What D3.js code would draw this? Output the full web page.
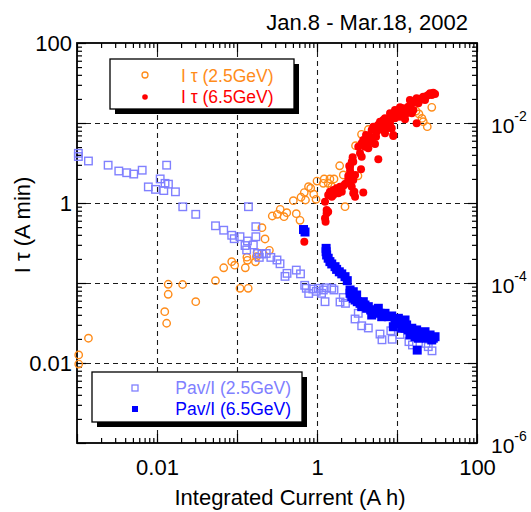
<!DOCTYPE html>
<html>
<head>
<meta charset="utf-8">
<script src="https://cdn.jsdelivr.net/npm/d3@7"></script>
<style>
  html, body { margin: 0; padding: 0; background: #fff; }
  text { font-family: "Liberation Sans", Arial, sans-serif; }
</style>
</head>
<body>
<svg id="chart" width="531" height="512"></svg>
<script>
// ---------------- DATA ----------------
const titleText = "Jan.8 - Mar.18, 2002";
const xTitle = "Integrated Current (A h)";
const yTitle = "I  \u03C4  (A min)";
const xTickLabels = [0.01, 1, 100];
const yLeftTickLabels = [100, 1, 0.01];
const yRightTickExps = [-2, -4, -6];
const seriesNames = ["I \u03C4 (2.5GeV)", "I \u03C4 (6.5GeV)", "Pav/I (2.5GeV)", "Pav/I (6.5GeV)"];

// I tau (2.5 GeV) - open orange circles (left axis)
const itau25X = [0.00105,0.00105,0.00139,0.0125,0.0132,0.0138,0.0138,0.0209,0.0305,0.0538,0.0682,0.0859,0.0935,0.109,0.138,0.127,0.133,0.135,0.170,0.175,0.205,0.224,0.254,0.276,0.319,0.347,0.387,0.419,0.506,0.551,0.613,0.631,0.693,0.718,0.783,0.834,0.910,0.972,1.0,1.23,1.45,1.63,1.20,1.38,1.53,1.92,2.13,3.25,3.03,3.60,4.38,2.24,18.8,20.5,21.3,23.9,27.2,0.178,17.3];
const itau25Y = [0.0126,0.0097,0.0204,0.0438,0.0314,0.0964,0.0723,0.0958,0.0584,0.107,0.155,0.185,0.167,0.0859,0.0859,0.155,0.210,0.192,0.184,0.213,0.491,0.355,0.256,0.688,0.722,0.834,0.674,0.757,1.07,0.735,0.608,1.18,1.35,1.09,1.60,1.53,1.29,1.11,1.88,2.0,2.0,2.0,1.76,1.76,1.60,2.92,2.24,2.19,5.20,7.22,8.29,0.90,13.0,11.4,10.4,9.0,15.7,0.239,14.1];

// I tau (6.5 GeV) - filled red circles (left axis)
const itau65X = [0.694,1.32,1.38,1.28,1.26,1.38,1.45,1.60,1.76,1.94,2.13,2.24,1.60,1.85,2.04,1.53,2.46,2.46,2.59,2.53,2.72,2.79,2.84,2.99,3.79,3.55,3.45,3.62,3.28,3.62,3.79,4.18,4.18,4.60,4.83,5.31,5.84,4.83,5.06,5.57,6.13,6.44,6.74,7.08,7.43,7.78,8.18,8.59,8.99,9.44,9.91,9.44,10.4,10.9,11.5,12.6,13.2,13.8,14.5,15.3,16.0,16.8,17.6,18.5,19.4,20.4,21.3,22.4,23.5,24.6,25.9,27.2,28.4,29.9,17.6,15.3,10.9,12.0,8.18,6.74,6.13,5.47,3.98,4.38,2.99,2.84,2.35,1.26,1.68,2.72,2.93,2.59,2.84,8.99,1.32,7.08,8.66,7.72,5.79,4.10];
const itau65Y = [0.328,0.743,0.778,0.584,1.04,1.26,1.38,1.45,1.53,1.60,1.63,1.73,1.26,1.32,1.38,1.20,1.94,2.18,2.53,2.90,3.28,3.73,1.32,1.20,1.35,2.64,4.18,3.79,5.06,5.57,6.13,6.44,5.57,6.74,5.84,5.47,3.52,8.18,8.99,7.78,8.34,9.44,8.18,7.43,8.99,10.4,9.91,8.59,7.08,11.5,13.2,14.5,13.8,12.0,13.2,11.1,13.2,16.0,19.4,17.6,14.5,18.5,20.4,17.6,19.4,20.4,21.3,19.4,21.8,22.4,23.5,22.4,23.9,23.0,9.91,13.2,15.7,15.3,13.2,10.9,10.4,6.74,5.06,4.83,2.24,1.94,1.76,0.644,1.32,1.60,1.38,2.84,3.28,6.88,0.818,11.5,11.5,8.66,9.44,7.08];

// Pav/I (2.5 GeV) - open light-blue squares (right axis)
const pav25X = [0.00104,0.00104,0.00139,0.00245,0.00333,0.00418,0.00512,0.00653,0.00779,0.00958,0.01096,0.01216,0.0126,0.0132,0.0139,0.0170,0.0210,0.0305,0.0539,0.0682,0.0859,0.0923,0.109,0.139,0.172,0.172,0.135,0.126,0.160,0.132,0.180,0.205,0.232,0.265,0.190,0.316,0.345,0.422,0.398,0.551,0.622,0.702,0.735,0.788,0.886,0.98,1.04,1.14,1.32,1.26,1.53,1.63,2.13,1.94,2.27,3.28,2.99,3.62,4.38,6.13,6.49,8.37,8.71,10.9,14.1,15.6,23.0,24.6,27.4,1.20];
const pav25Y = [4.18e-3,3.81e-3,3.35e-3,2.97e-3,2.51e-3,2.39e-3,2.30e-3,2.57e-3,1.59e-3,1.48e-3,2.0e-3,1.43e-3,1.76e-3,2.97e-3,1.72e-3,1.38e-3,8.97e-4,7.22e-4,5.19e-4,4.57e-4,3.95e-4,3.58e-4,3.79e-4,8.99e-4,5.06e-4,3.79e-4,3.35e-4,2.94e-4,2.99e-4,2.59e-4,2.34e-4,2.30e-4,2.34e-4,2.09e-4,2.09e-4,1.94e-4,1.74e-4,1.32e-4,1.21e-4,1.45e-4,1.30e-4,9.36e-5,8.59e-5,7.39e-5,8.41e-5,7.87e-5,8.59e-5,7.43e-5,8.71e-5,5.84e-5,8.59e-5,8.18e-5,6.59e-5,5.79e-5,5.57e-5,4.18e-5,3.55e-5,2.92e-5,2.74e-5,2.30e-5,1.95e-5,2.53e-5,1.98e-5,2.27e-5,1.85e-5,1.68e-5,1.76e-5,1.60e-5,1.42e-5,8.18e-5];

// Pav/I (6.5 GeV) - filled blue squares (right axis)
const pav65X = [0.678,0.708,1.30,1.30,1.32,1.38,1.45,1.53,1.68,1.76,1.90,2.04,2.24,2.39,2.59,2.59,2.72,2.84,2.99,3.19,3.45,3.62,3.98,4.38,4.69,4.83,5.31,5.84,6.13,6.44,7.08,7.78,8.59,8.99,9.44,9.91,10.4,11.5,12.6,11.5,12.6,13.8,14.5,16.0,17.6,16.8,18.5,17.9,20.4,22.4,23.5,25.9,27.2,29.9,2.84,3.13,3.79,4.18,5.31,6.74,10.9,13.2,15.3,19.4,21.3,24.6,28.4];
const pav65Y = [4.66e-4,4.34e-4,2.71e-4,2.46e-4,2.24e-4,2.04e-4,1.85e-4,1.73e-4,1.60e-4,1.48e-4,1.38e-4,1.30e-4,1.20e-4,1.07e-4,8.18e-5,7.43e-5,6.74e-5,6.44e-5,6.13e-5,5.84e-5,5.57e-5,5.06e-5,5.31e-5,5.06e-5,4.60e-5,3.98e-5,4.38e-5,4.83e-5,4.18e-5,3.79e-5,4.18e-5,3.79e-5,3.87e-5,2.84e-5,3.45e-5,3.13e-5,3.62e-5,3.28e-5,3.45e-5,2.72e-5,2.72e-5,2.59e-5,2.24e-5,2.46e-5,2.59e-5,2.13e-5,2.04e-5,1.45e-5,2.24e-5,2.46e-5,2.04e-5,2.24e-5,1.94e-5,2.13e-5,7.78e-5,7.08e-5,5.84e-5,4.83e-5,4.60e-5,3.98e-5,3.13e-5,2.99e-5,2.72e-5,2.35e-5,2.13e-5,2.13e-5,2.04e-5];

// ---------------- STYLE ----------------
const C_ORANGE = "#ff8c1a", C_RED = "#ff0000", C_LIGHT = "#8080ff", C_BLUE = "#0000ff";
const FONT = "Liberation Sans, Arial, sans-serif";

// ---------------- LAYOUT ----------------
const L = 77, R = 477, T = 43, B = 443;
const svg = d3.select("#chart");

const x = d3.scaleLog().domain([1e-3, 100]).range([L, R]);
const yL = d3.scaleLog().domain([1e-3, 100]).range([B, T]);
const yR = d3.scaleLog().domain([1e-6, 1e-1]).range([B, T]);

function logTicks(domain) {
  const lo = Math.round(Math.log10(domain[0])), hi = Math.round(Math.log10(domain[1]));
  const t = [];
  for (let e = lo; e < hi; e++) for (let m = 1; m < 10; m++) t.push(+(m * Math.pow(10, e)).toPrecision(6));
  t.push(Math.pow(10, hi));
  return t;
}
const isMajor = v => Math.abs(Math.log10(v) - Math.round(Math.log10(v))) < 1e-6;
const near = (a, b) => Math.abs(Math.log10(a) - Math.log10(b)) < 1e-6;

// gridlines
const grid = svg.append("g").attr("stroke", "#1a1a1a").attr("stroke-width", 1.1).attr("stroke-dasharray", "5,4");
x.ticks().filter(isMajor).filter(v => v > 1e-3 && v < 100).forEach(v => {
  const px = Math.round(x(v)) + 0.5;
  grid.append("line").attr("x1", px).attr("x2", px).attr("y1", T).attr("y2", B);
});
yL.ticks().filter(isMajor).filter(v => v > 1e-3 && v < 100).forEach(v => {
  const py = Math.round(yL(v)) + 0.5;
  grid.append("line").attr("x1", L).attr("x2", R).attr("y1", py).attr("y2", py);
});

// axes
function styleAxis(g, major, minor, horiz, sign) {
  g.select(".domain").remove();
  g.selectAll(".tick line").attr("stroke", "#000").attr("stroke-width", 1.2)
    .each(function(d) {
      const len = isMajor(d) ? major : minor;
      if (horiz) d3.select(this).attr("y2", sign * len);
      else d3.select(this).attr("x2", sign * len);
    });
  g.selectAll(".tick text").attr("font-family", FONT).attr("font-size", 22).attr("fill", "#000");
}

const xTicks = logTicks(x.domain());
const yLTicks = logTicks(yL.domain());
const yRTicks = logTicks(yR.domain());

const gB = svg.append("g").attr("transform", `translate(0,${B})`)
  .call(d3.axisBottom(x).tickValues(xTicks).tickSize(-5).tickPadding(16)
    .tickFormat(v => xTickLabels.some(t => near(t, v)) ? d3.format("~g")(v) : ""));
styleAxis(gB, 9, 5, true, -1);

const gT = svg.append("g").attr("transform", `translate(0,${T})`)
  .call(d3.axisTop(x).tickValues(xTicks).tickSize(-5).tickFormat(""));
styleAxis(gT, 9, 5, true, 1);

const gL = svg.append("g").attr("transform", `translate(${L},0)`)
  .call(d3.axisLeft(yL).tickValues(yLTicks).tickSize(-5).tickPadding(5)
    .tickFormat(v => yLeftTickLabels.some(t => near(t, v)) ? d3.format("~g")(v) : ""));
styleAxis(gL, 9, 5, false, 1);

const gR = svg.append("g").attr("transform", `translate(${R},0)`)
  .call(d3.axisRight(yR).tickValues(yRTicks).tickSize(-5).tickFormat(""));
styleAxis(gR, 9, 5, false, -1);

// right-axis labels with superscripts
yRightTickExps.forEach(e => {
  const t = svg.append("text").attr("x", 491).attr("y", yR(Math.pow(10, e)) + 10)
    .attr("font-family", FONT).attr("font-size", 21).attr("fill", "#000");
  t.append("tspan").text("10");
  t.append("tspan").attr("font-size", 14).attr("dy", -12).text("-" + Math.abs(e));
});

// frame
svg.append("rect").attr("x", L).attr("y", T).attr("width", R - L).attr("height", B - T)
  .attr("fill", "none").attr("stroke", "#000").attr("stroke-width", 1.8);

// data
const plot = svg.append("g");
const sq = 7.5;
plot.selectAll(".o25").data(d3.zip(itau25X, itau25Y)).join("circle")
  .attr("cx", d => x(d[0])).attr("cy", d => yL(d[1])).attr("r", 3.7)
  .attr("fill", "none").attr("stroke", C_ORANGE).attr("stroke-width", 1.4);
plot.selectAll(".r65").data(d3.zip(itau65X, itau65Y)).join("circle")
  .attr("cx", d => x(d[0])).attr("cy", d => yL(d[1])).attr("r", 4)
  .attr("fill", C_RED);
plot.selectAll(".p25").data(d3.zip(pav25X, pav25Y)).join("rect")
  .attr("x", d => x(d[0]) - sq / 2).attr("y", d => yR(d[1]) - sq / 2).attr("width", sq).attr("height", sq)
  .attr("fill", "none").attr("stroke", C_LIGHT).attr("stroke-width", 1.4);
plot.selectAll(".p65").data(d3.zip(pav65X, pav65Y)).join("rect")
  .attr("x", d => x(d[0]) - 4.5).attr("y", d => yR(d[1]) - 4.5).attr("width", 9).attr("height", 9)
  .attr("fill", C_BLUE);

// legends
function legendBox(x0, y0, w, h) {
  svg.append("rect").attr("x", x0 + 5).attr("y", y0 + 5).attr("width", w).attr("height", h).attr("fill", "#000");
  svg.append("rect").attr("x", x0).attr("y", y0).attr("width", w).attr("height", h)
    .attr("fill", "#fff").attr("stroke", "#000").attr("stroke-width", 1.3);
}
legendBox(110, 59, 184, 50);
svg.append("circle").attr("cx", 145).attr("cy", 75).attr("r", 3).attr("fill", "none").attr("stroke", C_ORANGE).attr("stroke-width", 1.3);
svg.append("text").attr("x", 181).attr("y", 82).attr("font-family", FONT).attr("font-size", 17.5).attr("fill", C_ORANGE).text(seriesNames[0]);
svg.append("circle").attr("cx", 145).attr("cy", 97).attr("r", 2.8).attr("fill", C_RED);
svg.append("text").attr("x", 181).attr("y", 103).attr("font-family", FONT).attr("font-size", 17.5).attr("fill", C_RED).text(seriesNames[1]);

legendBox(92, 372, 210, 50);
svg.append("rect").attr("x", 132).attr("y", 385).attr("width", 6).attr("height", 6).attr("fill", "none").attr("stroke", C_LIGHT).attr("stroke-width", 1.3);
svg.append("text").attr("x", 291).attr("y", 394).attr("text-anchor", "end").attr("font-family", FONT).attr("font-size", 17.5).attr("fill", C_LIGHT).text(seriesNames[2]);
svg.append("rect").attr("x", 132).attr("y", 406).attr("width", 6).attr("height", 6).attr("fill", C_BLUE);
svg.append("text").attr("x", 291).attr("y", 415).attr("text-anchor", "end").attr("font-family", FONT).attr("font-size", 17.5).attr("fill", C_BLUE).text(seriesNames[3]);

// titles
svg.append("text").attr("x", 468).attr("y", 30).attr("text-anchor", "end")
  .attr("font-family", FONT).attr("font-size", 22).attr("fill", "#000").text(titleText);
svg.append("text").attr("x", 290).attr("y", 505).attr("text-anchor", "middle")
  .attr("font-family", FONT).attr("font-size", 22).attr("fill", "#000").text(xTitle);
svg.append("text").attr("transform", "translate(30,225) rotate(-90)").attr("text-anchor", "middle")
  .attr("font-family", FONT).attr("font-size", 22).attr("fill", "#000").text(yTitle);
</script>
</body>
</html>
